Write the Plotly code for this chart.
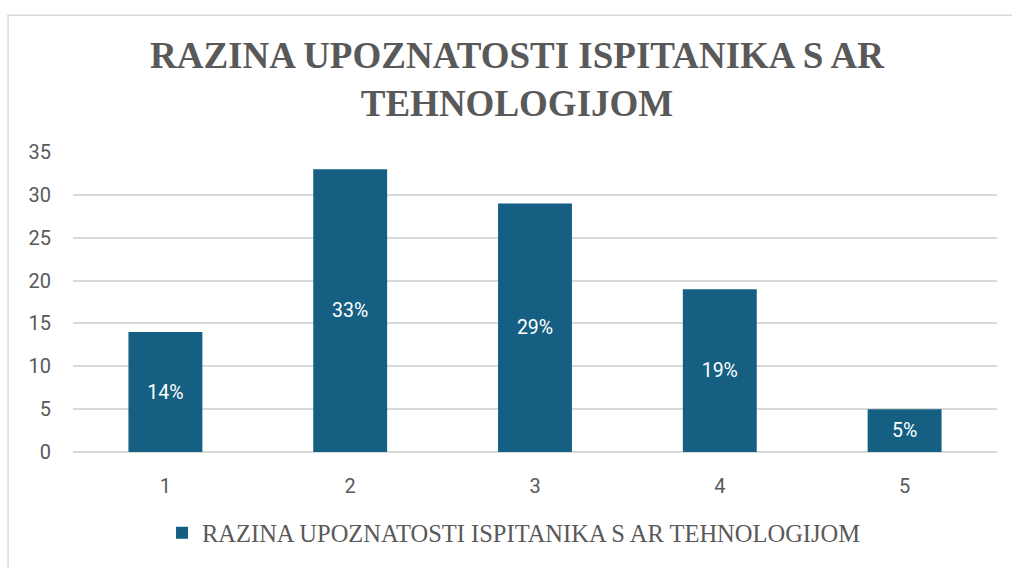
import plotly.graph_objects as go

categories = ["1", "2", "3", "4", "5"]
values = [14, 33, 29, 19, 5]
labels = ["14%", "33%", "29%", "19%", "5%"]
series_name = "RAZINA UPOZNATOSTI ISPITANIKA S AR TEHNOLOGIJOM"
title_text = "RAZINA UPOZNATOSTI ISPITANIKA S AR<br>TEHNOLOGIJOM"
y_ticks = [0, 5, 10, 15, 20, 25, 30, 35]

W, H = 1012, 568
L, R, T, B = 72.5, 14.5, 152, 112
pw, ph = W - L - R, H - T - B

fig = go.Figure()
fig.add_trace(go.Bar(
    x=categories, y=values, name=series_name,
    text=labels, textposition="inside", insidetextanchor="middle",
    textfont=dict(family="Roboto, Liberation Sans, sans-serif", size=19.5, color="white"),
    marker=dict(color="#156082", line=dict(width=0)),
    showlegend=True,
))

def px_x(p):
    return (p - L) / pw

def px_y(p):
    return (H - B - p) / ph

fig.update_layout(
    width=W, height=H,
    margin=dict(l=L, r=R, t=T, b=B),
    paper_bgcolor="white", plot_bgcolor="white",
    bargap=0.6,
    title=dict(text=title_text, x=517 / W, xanchor="center", y=1 - 68 / H, yanchor="middle",
               font=dict(family="Liberation Serif, Times New Roman, serif", size=37, color="#595959", weight="bold")),
    xaxis=dict(showgrid=False, showline=False, ticks="", ticklabelstandoff=20,
               tickfont=dict(family="Roboto, Liberation Sans, sans-serif", size=20, color="#595959")),
    yaxis=dict(range=[0, 35], tickvals=y_ticks, showgrid=True, gridcolor="#d9d9d9", gridwidth=1.5,
               zeroline=True, zerolinecolor="#d9d9d9", zerolinewidth=2, showline=False, ticks="",
               ticklabelstandoff=21,
               tickfont=dict(family="Roboto, Liberation Sans, sans-serif", size=20, color="#595959")),
    legend=dict(orientation="h", x=px_x(514), xanchor="center", y=px_y(538), yanchor="middle",
                font=dict(family="Liberation Serif, Times New Roman, serif", size=24.5, color="#595959"),
                itemwidth=30),
    shapes=[dict(type="rect", xref="paper", yref="paper",
                 x0=px_x(7.5), x1=px_x(1020), y0=px_y(13.5), y1=px_y(580),
                 line=dict(color="#d9d9d9", width=1.5), fillcolor="rgba(0,0,0,0)", layer="below")],
)

fig.write_html("out.html", config={"displayModeBar": False},
               post_script="document.body.style.margin='0';document.body.style.overflow='hidden';")
